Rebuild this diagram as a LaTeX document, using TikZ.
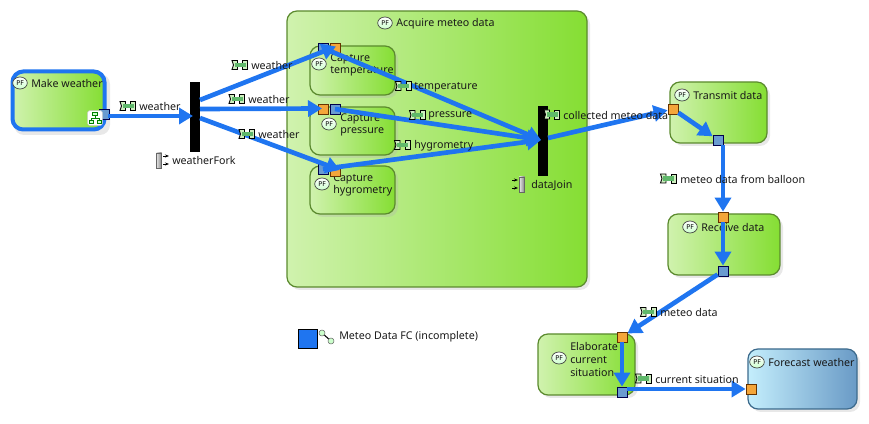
\documentclass[tikz,border=0pt]{standalone}
\usepackage{fontspec}
\setmainfont{Noto Sans}
\usetikzlibrary{arrows.meta,shapes.geometric}
\definecolor{flowblue}{HTML}{1F75F0}
\definecolor{gl}{HTML}{D0F2AE}
\definecolor{gr}{HTML}{85DE33}
\definecolor{gb}{HTML}{5B8A2E}
\definecolor{bl}{HTML}{C4EEFC}
\definecolor{br}{HTML}{699AC6}
\definecolor{bb}{HTML}{3C6A8C}
\definecolor{portin}{HTML}{F4A63A}
\definecolor{portout}{HTML}{6A9BD0}
\definecolor{ficong}{HTML}{5FB86A}
\definecolor{ficonl}{HTML}{CFEFC0}
\tikzset{
  x=0.75pt,y=-0.75pt,
  lbl/.style={font=\fontsize{8}{9.6}\selectfont,inner sep=0pt,text=black!90,anchor=west},
  mlbl/.style={lbl,align=left},
  func/.style={draw=gb,line width=0.9pt,rounded corners=7.5pt,left color=gl,right color=gr},
  sysfunc/.style={draw=bb,line width=0.9pt,rounded corners=7.5pt,left color=bl,right color=br},
  shade/.style={fill=black!30,opacity=.3,rounded corners=7.5pt},
  pf/.style={draw=black!75,line width=.5pt,ellipse,minimum width=11pt,minimum height=9pt,inner sep=0pt,
    top color=white,bottom color=green!20,text=black,font=\fontsize{5}{5}\selectfont\bfseries},
  bar/.style={fill=black},
  portO/.style={draw=black!70!blue,line width=.6pt,fill=portout,minimum size=7.5pt,inner sep=0pt},
  portI/.style={draw=black!60!orange,line width=.6pt,fill=portin,minimum size=7.5pt,inner sep=0pt},
  flow/.style={draw=flowblue,line width=3.5pt,-{Triangle[length=10.5pt,width=12pt]}},
  ficon/.pic={
    \path[draw=black,line width=.7pt,fill=ficonl] (-7.5,-4.5) -- (-2,-4.5) -- (-2,4.5) -- (-7.5,4.5) -- (-6,0) -- cycle;
    \path[draw=black,line width=.7pt,fill=ficonl] (3,-4.5) -- (8,-4.5) -- (8,4.5) -- (3,4.5) -- cycle;
    \fill[ficong] (-5,-2.2) rectangle (6,2.2);
  },
}
\newcommand{\FL}[5]{% name, x, y, text
  \pic at (#2,#3) {ficon};
  \node[lbl] (#1) at (#4,#3+1) {#5};
}
\begin{document}
\begin{tikzpicture}
\useasboundingbox (0,0) rectangle (869,424);
% shadows and boxes
\fill[shade] (14,74) rectangle (110,135);
\node[draw=flowblue,line width=3pt,rounded corners=8pt,left color=gl,right color=gr,minimum width=69pt,minimum height=43.5pt,inner sep=0pt] (mk) at (58.5,100.5) {};
\fill[shade] (290,14) rectangle (590,290);
\path[func] (287,11) rectangle (587,287);
\fill[shade] (313,49) rectangle (398,98);
\path[func] (310,46) rectangle (395,95);
\fill[shade] (313,110) rectangle (398,158);
\path[func] (310,107) rectangle (395,155);
\fill[shade] (313,169) rectangle (398,217);
\path[func] (310,166) rectangle (395,214);
\fill[shade] (673,85) rectangle (770,146);
\path[func] (670,82) rectangle (767,143);
\fill[shade] (671,217) rectangle (783,278);
\path[func] (668,214) rectangle (780,275);
\fill[shade] (541,337) rectangle (638,398);
\path[func] (538,334) rectangle (635,395);
\fill[shade] (751,352) rectangle (860,412);
\path[sysfunc] (748,349) rectangle (857,409);
% bars
\node[bar,minimum width=7.5pt,minimum height=52.5pt,inner sep=0pt] (fork) at (195,117) {};
\node[bar,minimum width=7.5pt,minimum height=52.5pt,inner sep=0pt] (join) at (543,141) {};
% titles
\node[pf] (pf1) at (20,83) {PF}; \node[lbl] (t1) at (31,83.5) {Make weather};
\node[pf] (pf2) at (385,23) {PF}; \node[lbl] (t2) at (396,23.5) {Acquire meteo data};
\node[pf] (pf3) at (319,64) {PF}; \node[mlbl] (t3) at (330,65) {Capture\\temperature};
\node[pf] (pf4) at (329,124) {PF}; \node[mlbl] (t4) at (340,125) {Capture\\pressure};
\node[pf] (pf5) at (322,184) {PF}; \node[mlbl] (t5) at (333,185) {Capture\\hygrometry};
\node[pf] (pf6) at (682,95) {PF}; \node[lbl] (t6) at (693,95.5) {Transmit data};
\node[pf] (pf7) at (690,227) {PF}; \node[lbl] (t7) at (701,227.5) {Receive data};
\node[pf] (pf8) at (559,358) {PF}; \node[mlbl] (t8) at (570,359.5) {Elaborate\\current\\situation};
\node[pf] (pf9) at (757,362) {PF}; \node[lbl] (t9) at (768,362.5) {Forecast weather};
% ports under the capture flows
\node[portO] (pm) at (104,114) {};
% hierarchy badge
\node[draw=black!20,fill=white,rounded corners=1.5pt,minimum size=11pt,inner sep=0pt] (badge) at (95,118) {};
\draw[green!50!black,line width=.4pt,fill=green!20] (92.5,112.5) rectangle (97.5,115.5) (89,120) rectangle (93,123) (97,120) rectangle (101,123);
\draw[green!50!black,line width=.4pt] (95,115.5) -- (95,118) (91,120) -- (91,118) -- (99,118) -- (99,120);
\node[portO] (p1) at (323,48) {};
\node[portI] (p2) at (335,48) {};
\node[portI] (p3) at (323,109) {};
\node[portO] (p4) at (335,109) {};
\node[portO] (p5) at (323,169) {};
\node[portI] (p6) at (335,171) {};
% flows
\coordinate (fa) at (200,100);
\coordinate (fb) at (200,109);
\coordinate (fc) at (200,118);
\coordinate (ja) at (541,140);
\coordinate (jo) at (548,138);
\coordinate (mo) at (108,116);
\draw[flow] (mo) -- (193,116);
\draw[flow] (fa) -- (336,46.5);
\draw[flow] (fb) -- (322,108.5);
\draw[flow] (fc) -- (340,170);
\draw[flow] (p1.center) -- (ja);
\draw[flow] (p4.center) -- (ja);
\draw[flow] (p5.center) -- (ja);
% right-hand ports
\node[portI] (tin) at (673,109) {};
\node[portO] (tout) at (718,140) {};
\node[portI] (rin) at (723,217) {};
\node[portO] (rout) at (723,271) {};
\node[portI] (ein) at (622,337) {};
\node[portO] (eout) at (622,392) {};
\node[portI] (fin) at (751,389) {};
\coordinate (tv) at (723,145);
\coordinate (ev) at (627,389);
\draw[flow] (jo) -- (tin);
\draw[flow] (tin) -- (tout);
\draw[flow] (tv) -- (rin);
\draw[flow] (rin) -- (rout);
\draw[flow] (rout) -- (ein);
\draw[flow] (ein) -- (eout);
\draw[flow] (ev) -- (fin);
% flow labels
\FL{a}{127.5}{106}{139}{weather}
\FL{b}{239.5}{65}{251}{weather}
\FL{c}{236.5}{99}{248}{weather}
\FL{d}{246.5}{134}{258}{weather}
\FL{e}{403}{86}{414}{temperature}
\FL{f}{417}{115}{428}{pressure}
\FL{g}{402}{145}{414}{hygrometry}
\FL{h}{551.5}{114.5}{563}{collected meteo data}
\FL{i}{668}{178.5}{680}{meteo data from balloon}
\FL{j}{648}{312}{660}{meteo data}
\FL{k}{643}{378.5}{655}{current situation}
% fork and join labels
\node[lbl] (forkl) at (172,161) {weatherFork};
\node[draw=black!60,left color=black!10,right color=black!50,minimum width=4pt,minimum height=11.5pt,inner sep=0pt] (forki) at (159,160.5) {};
\draw[-{Stealth[length=3pt]},line width=.6pt] (163,156) -- (169,156);
\draw[-{Stealth[length=3pt]},line width=.6pt] (163,164) -- (169,164);
\node[lbl] (joinl) at (531,185) {dataJoin};
\node[draw=black!60,left color=black!10,right color=black!50,minimum width=4pt,minimum height=11.5pt,inner sep=0pt] (joini) at (522,184.5) {};
\draw[-{Stealth[length=3pt]},line width=.6pt] (512,180) -- (518,180);
\draw[-{Stealth[length=3pt]},line width=.6pt] (512,188) -- (518,188);
% legend
\node[draw=black,line width=.7pt,fill=flowblue,minimum size=14.5pt,inner sep=0pt] (leg) at (308,339) {};
\node[lbl] (legt) at (339,337) {Meteo Data FC (incomplete)};
\node[circle,draw=black!60,fill=green!20,minimum size=4.5pt,inner sep=0pt] (la) at (322,333) {};
\node[circle,draw=black!60,fill=green!20,minimum size=4.5pt,inner sep=0pt] (lb) at (331,341) {};
\draw[line width=.8pt] (la) -- (lb);
\end{tikzpicture}
\end{document}
